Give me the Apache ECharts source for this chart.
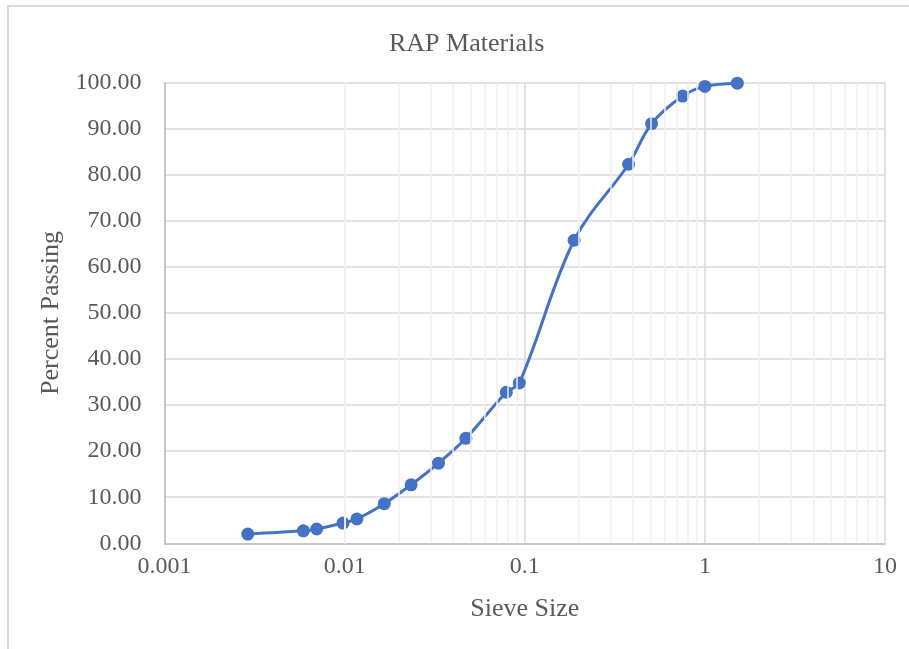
<!DOCTYPE html>
<html>
<head>
<meta charset="utf-8">
<title>RAP Materials</title>
<script src="https://cdn.jsdelivr.net/npm/echarts@6/dist/echarts.min.js"></script>
<style>
  html, body { margin: 0; padding: 0; background: #ffffff; }
  #frame { position: absolute; left: 7px; top: 5px; width: 920px; height: 660px;
           border-left: 2px solid #d9d9d9; border-top: 2px solid #d9d9d9; }
  #chart { position: absolute; left: 0; top: 0; width: 909px; height: 649px; }
</style>
</head>
<body>
<div id="frame"></div>
<div id="chart"></div>
<script>
// Gradation curve of the RAP material: sieve size vs. percent passing
const sieveSize = [0.0029, 0.0059, 0.007, 0.0098, 0.0117, 0.0166, 0.0234, 0.0332, 0.0471,
                   0.079, 0.0933, 0.188, 0.377, 0.506, 0.753, 1.0, 1.514];
const percentPassing = [2.0, 2.7, 3.1, 4.4, 5.3, 8.6, 12.7, 17.4, 22.8,
                        32.8, 34.8, 65.8, 82.3, 91.1, 97.1, 99.2, 99.9];
const xTickLabels = ['0.001', '0.01', '0.1', '1', '10'];

// Minor log gridlines at 2..9 of each decade
const minorGrid = [];
[0.001, 0.01, 0.1, 1].forEach(function (d) {
  for (let k = 2; k <= 9; k++) minorGrid.push({ xAxis: +(d * k).toPrecision(3) });
});

const textColor = '#595959';
const fontFamily = '"Liberation Serif", "Times New Roman", serif';
const blue = '#4472C4';
const points = sieveSize.map(function (s, i) { return [s, percentPassing[i]]; });

const chart = echarts.init(document.getElementById('chart'), null, { renderer: 'canvas' });
chart.setOption({
  animation: false,
  backgroundColor: 'transparent',
  title: {
    text: 'RAP Materials',
    left: 384,
    top: 26,
    textStyle: { fontFamily: fontFamily, fontSize: 26, fontWeight: 'normal', color: textColor }
  },
  grid: { left: 164.5, right: 24, top: 82.7, bottom: 105.7, containLabel: false },
  xAxis: {
    type: 'log',
    logBase: 10,
    min: 0.001,
    max: 10,
    name: 'Sieve Size',
    nameLocation: 'middle',
    nameGap: 53,
    nameTextStyle: { fontFamily: fontFamily, fontSize: 26, color: textColor },
    axisLine: { show: true, lineStyle: { color: '#bfbfbf', width: 1.5 } },
    axisTick: { show: false },
    axisLabel: {
      margin: 11,
      fontFamily: fontFamily, fontSize: 24, color: textColor,
      formatter: function (v, i) { return xTickLabels[i]; }
    },
    splitLine: { show: true, lineStyle: { color: '#d9d9d9', width: 1.5 } },
    minorTick: { show: false },
    minorSplitLine: { show: false }
  },
  yAxis: {
    type: 'value',
    min: 0,
    max: 100,
    interval: 10,
    name: 'Percent Passing',
    nameLocation: 'middle',
    nameGap: 94,
    nameTextStyle: { fontFamily: fontFamily, fontSize: 26, color: textColor },
    axisLine: { show: true, lineStyle: { color: '#bfbfbf', width: 1.5 } },
    axisTick: { show: false },
    axisLabel: {
      margin: 23,
      fontFamily: fontFamily, fontSize: 24, color: textColor,
      formatter: function (v) { return v.toFixed(2); }
    },
    splitLine: { show: true, lineStyle: { color: '#d9d9d9', width: 1.5 } }
  },
  series: [
    {
      name: 'minor grid',
      type: 'line',
      data: [],
      z: 1,
      silent: true,
      markLine: {
        silent: true,
        symbol: 'none',
        label: { show: false },
        lineStyle: { color: '#efefef', width: 1.5, type: 'solid' },
        emphasis: { disabled: true },
        data: minorGrid
      }
    },
    {
      name: 'RAP Materials',
      type: 'line',
      z: 3,
      smooth: 0.35,
      data: points,
      showSymbol: false,
      symbol: 'none',
      lineStyle: { color: blue, width: 3 }
    },
    {
      name: 'RAP Materials points',
      type: 'scatter',
      z: 4,
      data: points,
      symbol: 'circle',
      symbolSize: 13,
      itemStyle: { color: blue, opacity: 1, borderWidth: 0 }
    }
  ]
});
</script>
</body>
</html>
